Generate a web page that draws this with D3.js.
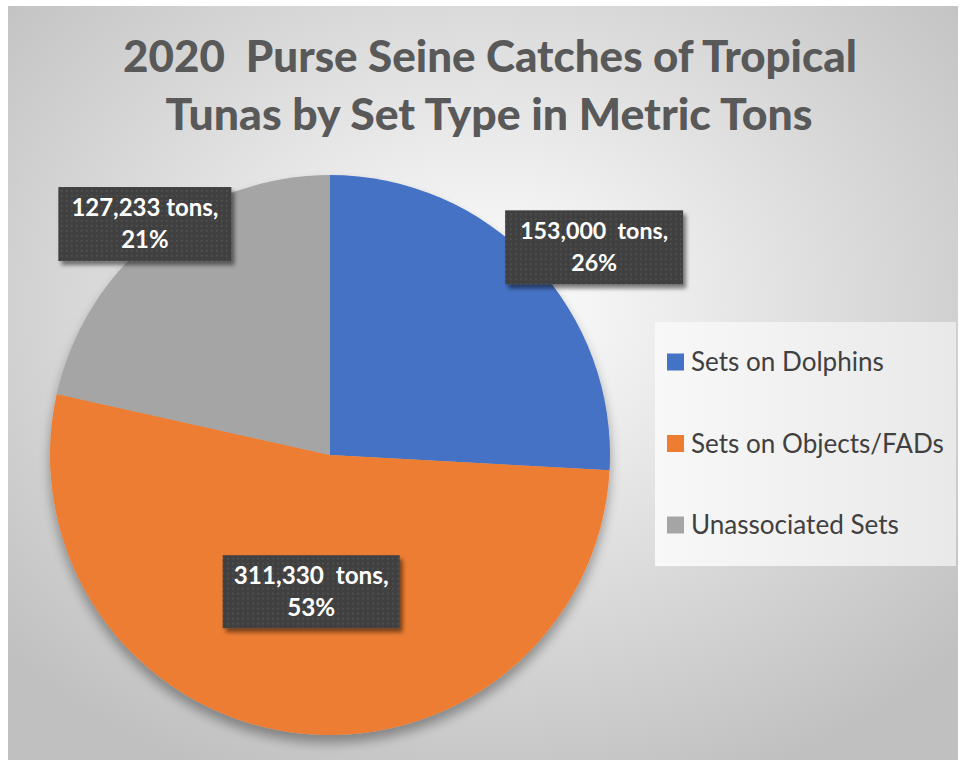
<!DOCTYPE html>
<html><head><meta charset="utf-8">
<script src="https://cdn.jsdelivr.net/npm/d3@7"></script>
<style>html,body{margin:0;padding:0;background:#fff;overflow:hidden} text{white-space:pre}</style>
</head><body>
<svg id="chart" width="961" height="761"></svg>
<script>
const categories = ["Sets on Dolphins", "Sets on Objects/FADs", "Unassociated Sets"];
const values = [153000, 311330, 127233];
const labelTexts = ["153,000  tons,", "311,330  tons,", "127,233 tons,"];
const percentTexts = ["26%", "53%", "21%"];
const colors = ["#4472C4", "#ED7D31", "#A5A5A5"];
const titleLines = ["2020  Purse Seine Catches of Tropical", "Tunas by Set Type in Metric Tons"];

const W = 961, H = 761;
const svg = d3.select("#chart");
const defs = svg.append("defs");
const FONT = "Lato, 'Open Sans', sans-serif";

const bg = defs.append("radialGradient").attr("id","bg").attr("cx","50%").attr("cy","40%").attr("r","68%");
bg.append("stop").attr("offset","0%").attr("stop-color","#ffffff");
bg.append("stop").attr("offset","100%").attr("stop-color","#c0c0c0");

const lg = defs.append("linearGradient").attr("id","lg").attr("x1","0").attr("y1","0").attr("x2","1").attr("y2","0");
lg.append("stop").attr("offset","0%").attr("stop-color","#f8f8f8");
lg.append("stop").attr("offset","100%").attr("stop-color","#e9e9e9");

const sh = defs.append("filter").attr("id","shadow").attr("x","-20%").attr("y","-20%").attr("width","150%").attr("height","150%");
sh.append("feGaussianBlur").attr("in","SourceAlpha").attr("stdDeviation",6);
sh.append("feOffset").attr("dx",0).attr("dy",8).attr("result","ob");
sh.append("feComponentTransfer").append("feFuncA").attr("type","linear").attr("slope",0.35);
const m1 = sh.append("feMerge"); m1.append("feMergeNode"); m1.append("feMergeNode").attr("in","SourceGraphic");

const sh2 = defs.append("filter").attr("id","shadow2").attr("x","-20%").attr("y","-20%").attr("width","150%").attr("height","150%");
sh2.append("feGaussianBlur").attr("in","SourceAlpha").attr("stdDeviation",2);
sh2.append("feOffset").attr("dx",3).attr("dy",4).attr("result","ob");
sh2.append("feComponentTransfer").append("feFuncA").attr("type","linear").attr("slope",0.5);
const m2 = sh2.append("feMerge"); m2.append("feMergeNode"); m2.append("feMergeNode").attr("in","SourceGraphic");

const pat = defs.append("pattern").attr("id","dots").attr("width",5).attr("height",5).attr("patternUnits","userSpaceOnUse");
pat.append("rect").attr("width",5).attr("height",5).attr("fill","#404040");
pat.append("rect").attr("x",1).attr("y",1).attr("width",1.6).attr("height",1.6).attr("fill","#555555");

svg.append("rect").attr("x",8).attr("y",6).attr("width",950).attr("height",754).attr("fill","url(#bg)");

function fitText(sel, width){
  const fs = parseFloat(sel.attr("font-size"));
  const w = sel.node().getComputedTextLength();
  sel.attr("font-size", fs*width/w);
}
const t1 = svg.append("text").attr("x",490).attr("y",72).attr("text-anchor","middle")
  .attr("font-family",FONT).attr("font-weight","900").attr("font-size",40).attr("fill","#595959").text(titleLines[0]);
fitText(t1, 734);
const t2 = svg.append("text").attr("x",489).attr("y",130).attr("text-anchor","middle")
  .attr("font-family",FONT).attr("font-weight","900").attr("font-size",40).attr("fill","#595959").text(titleLines[1]);
fitText(t2, 647);

const cx = 330, cy = 455, R = 280;
const pie = d3.pie().sort(null).value(d=>d)(values);
const arc = d3.arc().innerRadius(0).outerRadius(R);
const g = svg.append("g").attr("transform",`translate(${cx},${cy})`);
g.append("g").attr("filter","url(#shadow)").selectAll("path").data(pie).join("path")
  .attr("d",arc).attr("fill",(d,i)=>colors[i]);

const labelLayout = [
  {r:336, da:0.092, w:178, h:74, tw:148},
  {r:138, da:0.0, w:177, h:73, tw:155},
  {r:296, da:0.0, w:173, h:74, tw:147}
];
pie.forEach((d,i)=>{
  const L = labelLayout[i];
  const a = (d.startAngle+d.endAngle)/2 + L.da;
  const x = cx + L.r*Math.sin(a), y = cy - L.r*Math.cos(a);
  const lgp = svg.append("g").attr("transform",`translate(${x},${y})`);
  lgp.append("rect").attr("x",-L.w/2).attr("y",-L.h/2).attr("width",L.w).attr("height",L.h)
    .attr("fill","url(#dots)").attr("filter","url(#shadow2)");
  const a1 = lgp.append("text").attr("text-anchor","middle").attr("y",-8).attr("font-family",FONT)
    .attr("font-weight","bold").attr("font-size",21).attr("fill","#fff").text(labelTexts[i]);
  fitText(a1, L.tw);
  lgp.append("text").attr("text-anchor","middle").attr("y",24).attr("font-family",FONT)
    .attr("font-weight","bold").attr("font-size",a1.attr("font-size")).attr("fill","#fff").text(percentTexts[i]);
});

svg.append("rect").attr("x",655).attr("y",322).attr("width",301).attr("height",244).attr("fill","url(#lg)");
const ly = d3.scalePoint().domain(categories).range([362,525]);
const leg = svg.append("g").selectAll("g").data(categories).join("g")
  .attr("transform",d=>`translate(667,${ly(d)})`);
leg.append("rect").attr("x",0).attr("y",-8.5).attr("width",17).attr("height",17).attr("fill",(d,i)=>colors[i]);
const lt = leg.append("text").attr("x",24).attr("y",9).attr("font-family",FONT).attr("font-size",22)
  .attr("fill","#404040").text(d=>d);
const lfs = 22*253/lt.nodes()[1].getComputedTextLength();
lt.attr("font-size", lfs);
</script>
</body></html>
